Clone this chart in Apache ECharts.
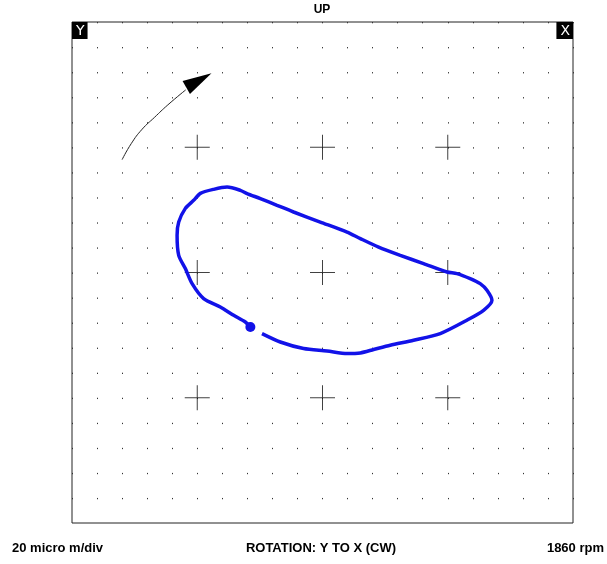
<!DOCTYPE html>
<html>
<head>
<meta charset="utf-8">
<title>Orbit plot</title>
<script src="https://cdn.jsdelivr.net/npm/echarts@6/dist/echarts.min.js"></script>
<style>
	html, body { margin: 0; padding: 0; background: #fff; }
	#orbitChart { width: 607px; height: 564px; }
</style>
</head>
<body>
<div id="orbitChart"></div>
<script>
'use strict';

// orbit trace, micro m (x, y), 20 micro m per dot division
var orbitX = [-48.3, -33.7, -15.1, 3.6, 19.6, 30.2, 40.8, 54.1, 72.7, 94.0,
		115.3, 128.6, 135.3, 131.3, 125.9, 117.9, 107.3, 99.4, 80.7, 62.1,
		44.8, 30.2, 19.6, -1.8, -23.1, -36.3, -49.6, -60.2, -65.6, -76.2,
		-86.9, -97.5, -102.9, -109.5, -114.8, -116.1, -114.8, -109.5, -104.1, -94.9,
		-81.6, -70.9, -61.6, -57.6],
	orbitY = [-48.8, -55.5, -60.7, -62.6, -64.7, -64.2, -61.5, -58.1, -54.1, -48.8,
		-38.1, -30.2, -22.2, -14.2, -8.9, -4.9, -0.9, 0.4, 7.1, 13.7,
		20.3, 27.1, 32.3, 40.3, 48.3, 53.6, 59.0, 63.0, 65.6, 68.2,
		66.4, 63.2, 57.6, 51.2, 40.3, 29.7, 13.7, 3.1, -8.9, -20.8,
		-27.5, -34.2, -39.5, -43.5];

// rotation arrow (arc and head)
var arrowX = [-160.0, -152.7, -144.0, -134.2, -123.5, -109.2],
	arrowY = [90.1, 102.9, 114.4, 123.8, 133.8, 145.8],
	arrowHead = [-98.7, 153.4];

// reference crosses
var crossX = [-100, 0, 100],
	crossY = [100, 0, -100];

var axisMin = -200,
	axisMax = 200,
	divSize = 20;

var titleText = 'UP',
	scaleText = '20 micro m/div',
	rotationText = 'ROTATION: Y TO X (CW)',
	speedText = '1860 rpm';

function zip(xs, ys) {
	var out = [];
	for (var i = 0; i < xs.length; i++) {
		out.push([xs[i], ys[i]]);
	}
	return out;
}

function crossPoints() {
	var pts = [];
	crossY.forEach(function (y) {
		crossX.forEach(function (x) {
			pts.push([x, y]);
		});
	});
	return pts;
}

var chart = echarts.init(document.getElementById('orbitChart'), null, {renderer: 'canvas'});

var labelFont = {
	fontFamily: 'Liberation Sans, Arial, sans-serif',
	fontSize: 13,
	fontWeight: 'bold',
	color: '#000'
};

var options = {
	animation: false,
	backgroundColor: '#fff',
	title: [
		{
			text: titleText,
			left: 322,
			top: 4,
			textAlign: 'center',
			padding: 0,
			textStyle: {fontFamily: 'Liberation Sans, Arial, sans-serif', fontSize: 12, fontWeight: 'bold', color: '#000'}
		},
		{
			text: 'Y',
			left: 72,
			top: 22,
			padding: [2, 3, 1, 4],
			backgroundColor: '#000',
			textStyle: {fontFamily: 'DejaVu Sans, sans-serif', fontSize: 14, fontWeight: 'normal', color: '#fff', lineHeight: 14}
		},
		{
			text: 'X',
			right: 34,
			top: 22,
			padding: [2, 3, 1, 4],
			backgroundColor: '#000',
			textStyle: {fontFamily: 'DejaVu Sans, sans-serif', fontSize: 14, fontWeight: 'normal', color: '#fff', lineHeight: 14}
		},
		{
			text: scaleText,
			left: 12,
			top: 542,
			padding: 0,
			textStyle: labelFont
		},
		{
			text: rotationText,
			left: 321,
			top: 542,
			textAlign: 'center',
			padding: 0,
			textStyle: labelFont
		},
		{
			text: speedText,
			right: 3,
			top: 542,
			padding: 0,
			textStyle: labelFont
		}
	],
	grid: {
		left: 72,
		top: 22,
		width: 501,
		height: 501,
		show: true,
		borderColor: '#222',
		borderWidth: 1,
		backgroundColor: '#fff'
	},
	xAxis: {
		type: 'value',
		min: axisMin,
		max: axisMax,
		interval: divSize,
		axisLine: {show: false},
		axisTick: {show: false},
		axisLabel: {show: false},
		// dashed vertical split lines give the dot grid
		splitLine: {
			show: true,
			lineStyle: {color: '#333', width: 1, type: [1.3, 23.75], dashOffset: 0}
		}
	},
	yAxis: {
		type: 'value',
		min: axisMin,
		max: axisMax,
		interval: divSize,
		axisLine: {show: false},
		axisTick: {show: false},
		axisLabel: {show: false},
		splitLine: {show: false}
	},
	series: [
		{
			name: 'crosses',
			type: 'scatter',
			symbol: 'path://M0,12h25v1h-25z M12,0h1v25h-1z',
			symbolSize: 25,
			itemStyle: {color: '#111'},
			silent: true,
			data: crossPoints()
		},
		{
			name: 'arrow',
			type: 'line',
			showSymbol: false,
			smooth: 0.5,
			lineStyle: {color: '#222', width: 1},
			silent: true,
			data: zip(arrowX, arrowY)
		},
		{
			name: 'arrowHead',
			type: 'scatter',
			symbol: 'triangle',
			symbolSize: [15, 29],
			symbolRotate: -60.5,
			itemStyle: {color: '#000', opacity: 1},
			silent: true,
			data: [arrowHead]
		},
		{
			name: 'orbit',
			type: 'line',
			showSymbol: false,
			smooth: 0.25,
			lineStyle: {color: '#1212e8', width: 3.5},
			silent: true,
			data: zip(orbitX, orbitY)
		},
		{
			name: 'keyphasor',
			type: 'scatter',
			symbol: 'circle',
			symbolSize: 10,
			itemStyle: {color: '#1212e8', opacity: 1},
			silent: true,
			data: [[orbitX[orbitX.length - 1], orbitY[orbitY.length - 1]]]
		}
	]
};

chart.setOption(options);
</script>
</body>
</html>
